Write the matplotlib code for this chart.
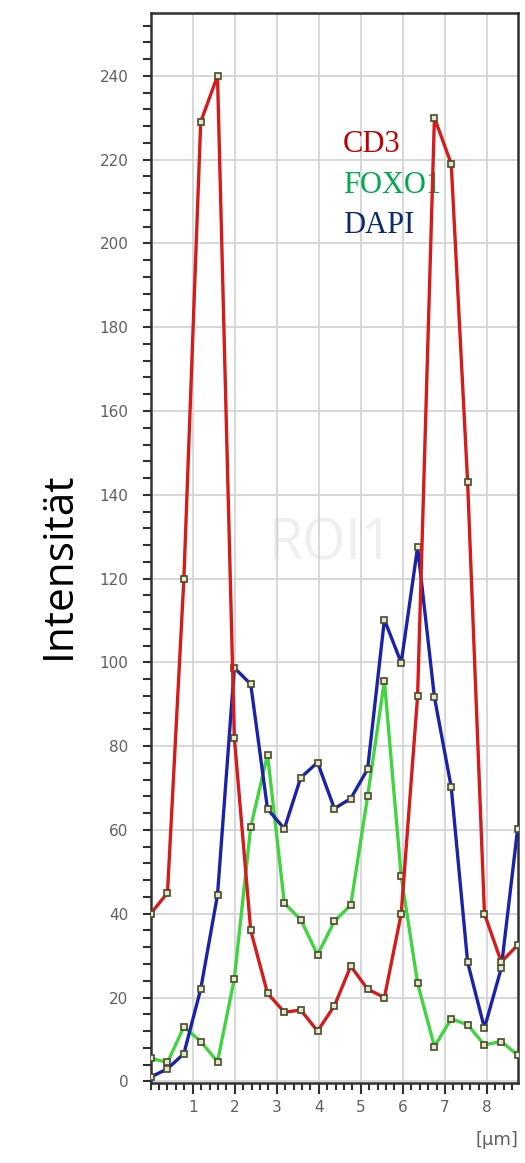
import matplotlib
matplotlib.use("Agg")
import matplotlib.pyplot as plt
from matplotlib.ticker import MultipleLocator

# distance along the ROI line [um]
dist = [0.00, 0.40, 0.79, 1.19, 1.59, 1.99, 2.38, 2.78, 3.18, 3.57, 3.97, 4.37,
        4.76, 5.16, 5.56, 5.96, 6.35, 6.75, 7.15, 7.54, 7.94, 8.34, 8.73]

# intensity per channel
cd3 = [40, 45, 120, 229, 240, 82, 36, 21, 16.5, 17, 12, 18,
       27.5, 22, 20, 40, 92, 230, 219, 143, 40, 28.5, 32.5]
foxo1 = [5.5, 4.5, 13, 9.5, 4.7, 24.5, 60.7, 78, 42.5, 38.6, 30.2, 38.2,
         42.1, 68, 95.6, 48.9, 23.4, 8.3, 14.9, 13.5, 8.7, 9.5, 6.3]
dapi = [1, 3, 6.6, 22, 44.5, 98.7, 94.8, 65, 60.3, 72.5, 76.1, 65.1,
        67.5, 74.5, 110.2, 99.9, 127.5, 91.7, 70.2, 28.4, 12.7, 27, 60.3]

x_ticks = [1, 2, 3, 4, 5, 6, 7, 8]
y_ticks = [0, 20, 40, 60, 80, 100, 120, 140, 160, 180, 200, 220, 240]

fig = plt.figure(figsize=(5.25, 11.63), dpi=100)
ax = fig.add_axes([0.287, 0.0688, 0.7006, 0.92])

# faint watermark
ax.text(4.3, 128, "ROI1", fontsize=40, color="#efefef", ha="center", va="center",
        family="Open Sans", zorder=0)

marker_style = dict(marker="s", markersize=5, markerfacecolor="#e4e6d4",
                    markeredgecolor="#4a4a28", markeredgewidth=1.2)
ax.plot(dist, foxo1, color="#40d440", linewidth=2.4, zorder=3, **marker_style)
ax.plot(dist, dapi, color="#1a22a8", linewidth=2.4, zorder=4, **marker_style)
ax.plot(dist, cd3, color="#d41c1c", linewidth=2.4, zorder=5, **marker_style)

ax.set_xlim(0, 8.75)
ax.set_ylim(-0.4, 255)
ax.set_xticks(x_ticks)
ax.set_yticks(y_ticks)
ax.xaxis.set_minor_locator(MultipleLocator(0.2))
ax.yaxis.set_minor_locator(MultipleLocator(4))
ax.grid(True, which="major", color="#d4d4d4", linewidth=1.3, zorder=1)
ax.set_axisbelow(True)

ax.tick_params(which="both", direction="out", color="#303030", width=1.5,
               labelsize=11, labelcolor="#606060")
ax.tick_params(axis="y", which="both", length=6, pad=10)
ax.tick_params(axis="x", which="major", length=8, pad=4)
ax.tick_params(axis="x", which="minor", length=5)
for s in ax.spines.values():
    s.set_color("#303030")
    s.set_linewidth(1.8)

# channel labels
ax.text(343 / 525, 1 - 152 / 1163, "CD3", transform=fig.transFigure, fontsize=22,
        family="Liberation Serif", color="#c00000")
ax.text(343 / 525, 1 - 193 / 1163, "FOXO1", transform=fig.transFigure, fontsize=22,
        family="Liberation Serif", color="#00a84f")
ax.text(343 / 525, 1 - 233 / 1163, "DAPI", transform=fig.transFigure, fontsize=22,
        family="Liberation Serif", color="#0a2a6e")

# axis labels
fig.text(59 / 525, 1 - 565 / 1163, "Intensität", rotation=90, fontsize=30.5,
         family="Open Sans", ha="center", va="center")
fig.text(518 / 525, 1 - 1140 / 1163, "[µm]", fontsize=13, color="#606060",
         ha="right", va="center")

fig.savefig("out.png", dpi=100)
